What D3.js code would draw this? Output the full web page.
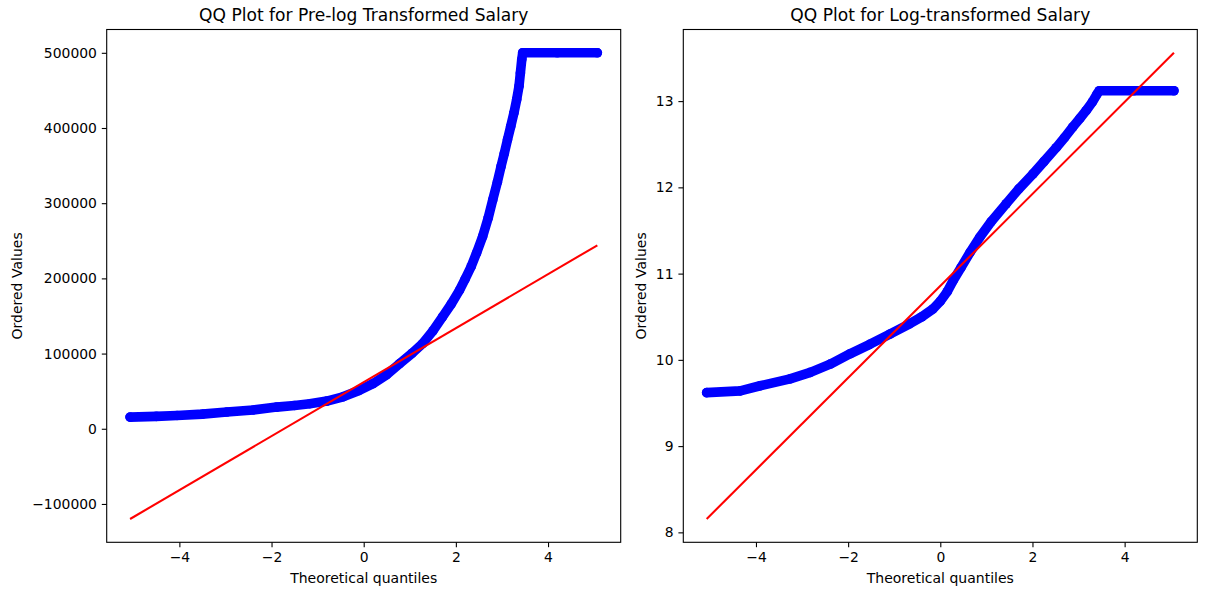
<!DOCTYPE html>
<html>
<head>
<meta charset="utf-8">
<script src="https://cdn.jsdelivr.net/npm/d3@7"></script>
<style>
  html, body { margin: 0; padding: 0; background: #fff; }
  svg { display: block; }
  text { font-family: "DejaVu Sans", sans-serif; fill: #000; }
</style>
</head>
<body>
<svg id="chart" width="1207" height="592"></svg>
<script>
// ---------------- data ----------------
const titles = ["QQ Plot for Pre-log Transformed Salary", "QQ Plot for Log-transformed Salary"];
const xLabel = "Theoretical quantiles";
const yLabel = "Ordered Values";

const xTicks = [-4, -2, 0, 2, 4];
const leftYTicks = [-100000, 0, 100000, 200000, 300000, 400000, 500000];
const rightYTicks = [8, 9, 10, 11, 12, 13];

// Pre-log: ordered salary vs theoretical quantile
const leftQ = [-5.07, -4.5, -4.05, -3.5, -2.97, -2.4, -1.89, -1.5, -1.17, -0.8, -0.45, -0.1, 0.2, 0.5, 0.78, 1.05, 1.28, 1.5, 1.71, 1.9, 2.08, 2.2, 2.33, 2.45, 2.58, 2.70, 2.80, 2.90, 2.98, 3.05, 3.12, 3.19, 3.26, 3.32, 3.37, 3.40, 3.43, 3.45, 4.2, 5.07];
const leftV = [15500, 16500, 17700, 19500, 22200, 25000, 28800, 31000, 33300, 36800, 42500, 51000, 60000, 72000, 86700, 100500, 113300, 130000, 148800, 166000, 184400, 199000, 215500, 234000, 255500, 280000, 304400, 328000, 348800, 366000, 384400, 402000, 420000, 438000, 455500, 473000, 491000, 500000, 500000, 500000];
// fitted line endpoints
const leftFitQ = [-5.07, 5.07];
const leftFitV = [-120000, 244000];

// Log-transformed
const rightQ = [-5.07, -4.34, -3.91, -3.26, -2.82, -2.39, -1.96, -1.53, -1.09, -0.66, -0.4, -0.16, 0, 0.15, 0.28, 0.45, 0.65, 0.855, 1.1, 1.43, 1.7, 2.01, 2.25, 2.515, 2.7, 2.875, 3.03, 3.165, 3.30, 3.40, 3.45, 4.2, 5.07];
const rightV = [9.62, 9.64, 9.70, 9.78, 9.855, 9.95, 10.07, 10.18, 10.30, 10.42, 10.50, 10.59, 10.68, 10.79, 10.92, 11.07, 11.25, 11.42, 11.60, 11.81, 11.98, 12.155, 12.30, 12.46, 12.58, 12.70, 12.80, 12.89, 12.99, 13.08, 13.12, 13.12, 13.12];
const rightFitQ = [-5.07, 5.07];
const rightFitV = [8.155, 13.56];

// ---------------- drawing ----------------
const svg = d3.select("#chart");
const panels = [
  {x0: 106.7, x1: 620.7, y0: 29.5, y1: 542.3, q: leftQ, v: leftV, fq: leftFitQ, fv: leftFitV, yTicks: leftYTicks, title: titles[0], ylabX: 22},
  {x0: 683.3, x1: 1197.3, y0: 29.5, y1: 542.3, q: rightQ, v: rightV, fq: rightFitQ, fv: rightFitV, yTicks: rightYTicks, title: titles[1], ylabX: 646}
];

function padded(arr) {
  const lo = d3.min(arr), hi = d3.max(arr), m = (hi - lo) * 0.05;
  return [lo - m, hi + m];
}

const fmt = d => d3.format("d")(d).replace("-", "\u2212");

panels.forEach(p => {
  const x = d3.scaleLinear().domain(padded(p.q.concat(p.fq))).range([p.x0, p.x1]);
  const y = d3.scaleLinear().domain(padded(p.v.concat(p.fv))).range([p.y1, p.y0]);
  const g = svg.append("g");

  const clipId = "clip" + Math.round(p.x0);
  svg.append("clipPath").attr("id", clipId).append("rect")
    .attr("x", p.x0).attr("y", p.y0).attr("width", p.x1 - p.x0).attr("height", p.y1 - p.y0);

  const pts = p.q.map((q, i) => [q, p.v[i]]);
  const plot = g.append("g").attr("clip-path", `url(#${clipId})`);
  // dense markers: the band of overlapping points
  plot.append("path")
    .datum(pts)
    .attr("d", d3.line().x(d => x(d[0])).y(d => y(d[1])))
    .attr("fill", "none").attr("stroke", "#0000ff")
    .attr("stroke-width", 9.6).attr("stroke-linejoin", "round").attr("stroke-linecap", "round");
  plot.selectAll("circle").data(pts).join("circle")
    .attr("cx", d => x(d[0])).attr("cy", d => y(d[1])).attr("r", 4.8)
    .attr("fill", "#0000ff");
  // fit line
  plot.append("path")
    .datum(p.fq.map((q, i) => [q, p.fv[i]]))
    .attr("d", d3.line().x(d => x(d[0])).y(d => y(d[1])))
    .attr("fill", "none").attr("stroke", "#ff0000").attr("stroke-width", 2.08);

  // axes
  const xa = g.append("g").attr("transform", `translate(0,${p.y1})`)
    .call(d3.axisBottom(x).tickValues(xTicks).tickFormat(fmt).tickSize(4.9).tickPadding(4.9).tickSizeOuter(0));
  const ya = g.append("g").attr("transform", `translate(${p.x0},0)`)
    .call(d3.axisLeft(y).tickValues(p.yTicks).tickFormat(fmt).tickSize(4.9).tickPadding(4.9).tickSizeOuter(0));
  [xa, ya].forEach(a => {
    a.select(".domain").remove();
    a.selectAll(".tick line").attr("stroke", "#000").attr("stroke-width", 1.1);
    a.selectAll(".tick text").attr("font-size", "13.9px").attr("font-family", "DejaVu Sans, sans-serif").attr("fill", "#000");
  });

  // frame
  g.append("rect").attr("x", p.x0).attr("y", p.y0).attr("width", p.x1 - p.x0).attr("height", p.y1 - p.y0)
    .attr("fill", "none").attr("stroke", "#000").attr("stroke-width", 1.1);

  // labels
  g.append("text").attr("x", (p.x0 + p.x1) / 2).attr("y", 21).attr("text-anchor", "middle")
    .attr("font-size", "17.1px").text(p.title);
  g.append("text").attr("x", (p.x0 + p.x1) / 2).attr("y", 583).attr("text-anchor", "middle")
    .attr("font-size", "14px").text(xLabel);
  g.append("text").attr("transform", `translate(${p.ylabX},${(p.y0 + p.y1) / 2}) rotate(-90)`)
    .attr("text-anchor", "middle").attr("font-size", "14px").text(yLabel);
});
</script>
</body>
</html>
